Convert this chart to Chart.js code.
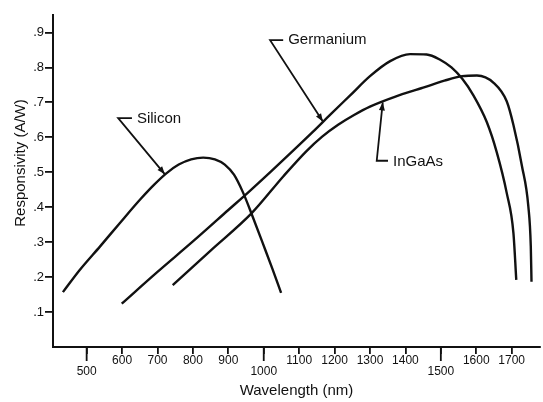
<!DOCTYPE html>
<html>
<head>
<meta charset="utf-8">
<script src="https://cdn.jsdelivr.net/npm/chart.js@4.4.1/dist/chart.umd.min.js"></script>
<style>
  html, body { margin: 0; padding: 0; background: #fff; }
</style>
</head>
<body>
<canvas id="responsivityChart" width="543" height="402"></canvas>
<script>
// wavelength (nm) / responsivity (A/W)
const siliconNm   = [433, 481, 538, 594, 651, 690, 725, 760, 795, 829, 862, 890, 916, 942, 968, 998, 1024, 1049];
const siliconResp = [0.157, 0.221, 0.288, 0.355, 0.422, 0.464, 0.497, 0.522, 0.537, 0.542, 0.537, 0.522, 0.493, 0.441, 0.375, 0.295, 0.225, 0.155];

const germaniumNm   = [599, 700, 800, 900, 961, 1020, 1080, 1140, 1190, 1244, 1300, 1357, 1413, 1460, 1498, 1530, 1560, 1592, 1630, 1658, 1686, 1705, 1713];
const germaniumResp = [0.124, 0.215, 0.302, 0.392, 0.447, 0.502, 0.559, 0.617, 0.667, 0.720, 0.775, 0.818, 0.838, 0.837, 0.822, 0.800, 0.768, 0.720, 0.643, 0.557, 0.441, 0.326, 0.192];

const ingaasNm   = [743, 850, 966, 1055, 1120, 1165, 1210, 1255, 1300, 1370, 1450, 1510, 1560, 1602, 1649, 1686, 1705, 1729, 1747, 1754, 1756];
const ingaasResp = [0.177, 0.276, 0.383, 0.488, 0.560, 0.602, 0.636, 0.664, 0.688, 0.716, 0.742, 0.762, 0.775, 0.777, 0.756, 0.703, 0.635, 0.518, 0.403, 0.288, 0.187];

const xTickValues = [500, 600, 700, 800, 900, 1000, 1100, 1200, 1300, 1400, 1500, 1600, 1700];
const droppedTicks = [500, 1000, 1500];   // labels set lower, longer tick
const yTickValues = [0.1, 0.2, 0.3, 0.4, 0.5, 0.6, 0.7, 0.8, 0.9];

// callouts: text, text anchor, bracket corner, arrow tip (data units)
const callouts = [
  { text: 'Silicon',   at: [642, 0.653],  corner: [589, 0.655],  tip: [721, 0.494] },
  { text: 'Germanium', at: [1069, 0.878], corner: [1018, 0.878], tip: [1167, 0.645] },
  { text: 'InGaAs',    at: [1365, 0.529], corner: [1319, 0.533], tip: [1336, 0.700] }
];

const FONT = "'Liberation Sans', Arial, sans-serif";
const INK = '#111';

function toPoints(xs, ys) {
  return xs.map((x, i) => ({ x: x, y: ys[i] }));
}

function curve(label, xs, ys) {
  return {
    label: label,
    data: toPoints(xs, ys),
    borderColor: INK,
    borderWidth: 2.4,
    pointRadius: 0,
    fill: false,
    cubicInterpolationMode: 'monotone'
  };
}

const calloutPlugin = {
  id: 'callouts',
  afterDraw(chart) {
    const c = chart.ctx;
    const xs = chart.scales.x;
    const ys = chart.scales.y;
    const px = p => [xs.getPixelForValue(p[0]), ys.getPixelForValue(p[1])];

    c.save();
    c.strokeStyle = INK;
    c.fillStyle = INK;
    c.lineWidth = 1.8;

    // longer ticks under 500 / 1000 / 1500
    droppedTicks.forEach(v => {
      const x = xs.getPixelForValue(v);
      c.beginPath();
      c.moveTo(x, chart.chartArea.bottom);
      c.lineTo(x, chart.chartArea.bottom + 14);
      c.stroke();
    });

    callouts.forEach(co => {
      const [tx, ty] = px(co.at);
      const [cx, cy] = px(co.corner);
      const [ax, ay] = px(co.tip);
      c.lineWidth = 1.8;
      c.beginPath();
      c.moveTo(tx - 5, cy);
      c.lineTo(cx, cy);
      c.lineTo(ax, ay);
      c.stroke();
      // arrow head
      const ang = Math.atan2(ay - cy, ax - cx);
      const len = 8, half = 3;
      c.beginPath();
      c.moveTo(ax, ay);
      c.lineTo(ax - len * Math.cos(ang) + half * Math.sin(ang), ay - len * Math.sin(ang) - half * Math.cos(ang));
      c.lineTo(ax - len * Math.cos(ang) - half * Math.sin(ang), ay - len * Math.sin(ang) + half * Math.cos(ang));
      c.closePath();
      c.fill();

      c.font = '15px ' + FONT;
      c.textAlign = 'left';
      c.textBaseline = 'middle';
      c.fillText(co.text, tx, ty);
    });

    // y axis title
    c.translate(21, 163);
    c.rotate(-Math.PI / 2);
    c.font = '15px ' + FONT;
    c.textAlign = 'center';
    c.textBaseline = 'middle';
    c.fillText('Responsivity (A/W)', 0, 0);
    c.restore();
  }
};

new Chart(document.getElementById('responsivityChart').getContext('2d'), {
  type: 'line',
  data: {
    datasets: [
      curve('Silicon', siliconNm, siliconResp),
      curve('Germanium', germaniumNm, germaniumResp),
      curve('InGaAs', ingaasNm, ingaasResp)
    ]
  },
  options: {
    responsive: false,
    animation: false,
    layout: { padding: { top: 15, right: 3, left: 0, bottom: 0 } },
    plugins: {
      legend: { display: false },
      tooltip: { enabled: false }
    },
    scales: {
      x: {
        type: 'linear',
        min: 405,
        max: 1780,
        afterFit: s => { s.height = 55; },
        afterBuildTicks: s => { s.ticks = xTickValues.map(v => ({ value: v })); },
        border: { color: INK, width: 2 },
        grid: { drawOnChartArea: false, drawTicks: true, tickLength: 7, color: INK, lineWidth: 1.8 },
        ticks: {
          autoSkip: false,
          maxRotation: 0,
          padding: 1,
          color: INK,
          font: { family: FONT, size: 12, lineHeight: 0.95 },
          callback: v => droppedTicks.includes(v) ? ['', String(v)] : String(v)
        },
        title: {
          display: true,
          text: 'Wavelength (nm)',
          color: INK,
          font: { family: FONT, size: 15 },
          padding: { top: 0, bottom: 2 }
        }
      },
      y: {
        min: 0,
        max: 0.95,
        afterFit: s => { s.width = 53; },
        afterBuildTicks: s => { s.ticks = yTickValues.map(v => ({ value: v })); },
        border: { color: INK, width: 2 },
        grid: { drawOnChartArea: false, drawTicks: true, tickLength: 8, color: INK, lineWidth: 1.8 },
        ticks: {
          padding: 1,
          color: INK,
          font: { family: FONT, size: 13 },
          callback: v => v.toFixed(1).replace(/^0/, '')
        }
      }
    }
  },
  plugins: [calloutPlugin]
});
</script>
</body>
</html>
